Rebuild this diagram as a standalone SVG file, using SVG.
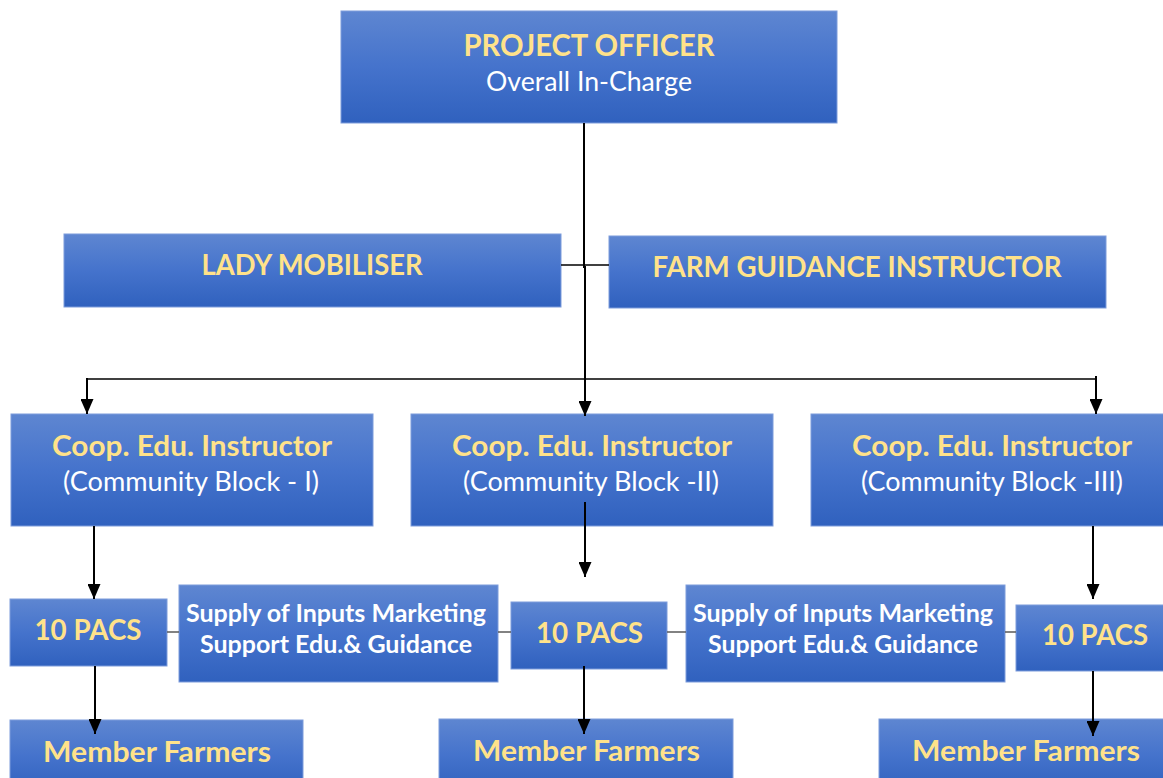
<svg xmlns="http://www.w3.org/2000/svg" width="1163" height="778" viewBox="0 0 1163 778">
  <defs>
    <linearGradient id="blueGrad" x1="0" y1="0" x2="0" y2="1">
      <stop offset="0" stop-color="#5E86D1"/>
      <stop offset="0.5" stop-color="#4573CC"/>
      <stop offset="1" stop-color="#3061BE"/>
    </linearGradient>
    <marker id="arrow" markerUnits="userSpaceOnUse" markerWidth="15" markerHeight="13" refX="15" refY="6.5" orient="auto">
      <path d="M0,0 L15,6.5 L0,13 Z" fill="#000"/>
    </marker>
    <style>
      .box { fill: url(#blueGrad); stroke: #7C9CDB; stroke-width: 1; }
      .t { font-family: Lato, "Open Sans", "Liberation Sans", sans-serif; text-anchor: middle; }
      .y { fill: #FFE28A; font-weight: bold; }
      .w { fill: #FFFFFF; }
      .wb { fill: #FFFFFF; font-weight: bold; }
      .arr { stroke: #000; stroke-width: 2; fill: none; marker-end: url(#arrow); }
      .ln { stroke: #000; stroke-width: 2; fill: none; }
      .thin { stroke: #000; stroke-width: 1.5; fill: none; }
      .gray { stroke: #595959; stroke-width: 1.5; fill: none; }
    </style>
  </defs>

  <g id="project-officer">
    <rect class="box" x="341" y="11" width="496" height="112"/>
    <text class="t y" x="589" y="56" font-size="31" textLength="251" lengthAdjust="spacingAndGlyphs">PROJECT OFFICER</text>
    <text class="t w" x="589" y="91" font-size="26" textLength="206" lengthAdjust="spacingAndGlyphs">Overall In-Charge</text>
  </g>

  <g id="lady-mobiliser">
    <rect class="box" x="64" y="234" width="497" height="73"/>
    <text class="t y" x="312" y="275" font-size="29" textLength="221" lengthAdjust="spacingAndGlyphs">LADY MOBILISER</text>
  </g>

  <g id="farm-guidance-instructor">
    <rect class="box" x="609" y="236" width="497" height="72"/>
    <text class="t y" x="857" y="277" font-size="28" textLength="409" lengthAdjust="spacingAndGlyphs">FARM GUIDANCE INSTRUCTOR</text>
  </g>

  <g id="cei-1">
    <rect class="box" x="11" y="414" width="362" height="112"/>
    <text class="t y" x="192" y="456" font-size="28" textLength="280" lengthAdjust="spacingAndGlyphs">Coop. Edu. Instructor</text>
    <text class="t w" x="191" y="491" font-size="26" textLength="256" lengthAdjust="spacingAndGlyphs">(Community Block - I)</text>
  </g>

  <g id="cei-2">
    <rect class="box" x="411" y="414" width="362" height="112"/>
    <text class="t y" x="592" y="456" font-size="28" textLength="280" lengthAdjust="spacingAndGlyphs">Coop. Edu. Instructor</text>
    <text class="t w" x="591" y="491" font-size="26" textLength="256" lengthAdjust="spacingAndGlyphs">(Community Block -II)</text>
  </g>

  <g id="cei-3">
    <rect class="box" x="811" y="414" width="362" height="112"/>
    <text class="t y" x="992" y="456" font-size="28" textLength="280" lengthAdjust="spacingAndGlyphs">Coop. Edu. Instructor</text>
    <text class="t w" x="992" y="491" font-size="26" textLength="262" lengthAdjust="spacingAndGlyphs">(Community Block -III)</text>
  </g>

  <g id="pacs-1">
    <rect class="box" x="10" y="599" width="157" height="67"/>
    <text class="t y" x="88" y="640" font-size="28" textLength="107" lengthAdjust="spacingAndGlyphs">10 PACS</text>
  </g>

  <g id="supply-1">
    <rect class="box" x="179" y="585" width="319" height="97"/>
    <text class="t wb" x="336" y="622" font-size="25" textLength="300" lengthAdjust="spacingAndGlyphs">Supply of Inputs Marketing</text>
    <text class="t wb" x="336" y="653" font-size="25" textLength="272" lengthAdjust="spacingAndGlyphs">Support Edu.&amp; Guidance</text>
  </g>

  <g id="pacs-2">
    <rect class="box" x="511" y="602" width="156" height="67"/>
    <text class="t y" x="589.5" y="643" font-size="28" textLength="107" lengthAdjust="spacingAndGlyphs">10 PACS</text>
  </g>

  <g id="supply-2">
    <rect class="box" x="686" y="585" width="319" height="97"/>
    <text class="t wb" x="843" y="622" font-size="25" textLength="300" lengthAdjust="spacingAndGlyphs">Supply of Inputs Marketing</text>
    <text class="t wb" x="843" y="653" font-size="25" textLength="270" lengthAdjust="spacingAndGlyphs">Support Edu.&amp; Guidance</text>
  </g>

  <g id="pacs-3">
    <rect class="box" x="1016" y="605" width="158" height="66"/>
    <text class="t y" x="1095" y="645" font-size="28" textLength="106" lengthAdjust="spacingAndGlyphs">10 PACS</text>
  </g>

  <g id="member-farmers-1">
    <rect class="box" x="10" y="720" width="293" height="72"/>
    <text class="t y" x="157" y="762" font-size="28" textLength="228" lengthAdjust="spacingAndGlyphs">Member Farmers</text>
  </g>

  <g id="member-farmers-2">
    <rect class="box" x="439" y="719" width="294" height="72"/>
    <text class="t y" x="586.5" y="761" font-size="28" textLength="227" lengthAdjust="spacingAndGlyphs">Member Farmers</text>
  </g>

  <g id="member-farmers-3">
    <rect class="box" x="879" y="719" width="294" height="72"/>
    <text class="t y" x="1026" y="761" font-size="28" textLength="228" lengthAdjust="spacingAndGlyphs">Member Farmers</text>
  </g>

  <g id="connectors">
    <line class="ln" x1="584" y1="123" x2="584" y2="268"/>
    <line class="thin" x1="561" y1="265" x2="609" y2="265"/>
    <line class="arr" x1="585" y1="266" x2="585" y2="416"/>
    <line class="thin" x1="87" y1="379" x2="1097" y2="379"/>
    <line class="arr" x1="87" y1="378" x2="87" y2="414"/>
    <line class="arr" x1="1096" y1="376" x2="1096" y2="414"/>
    <line class="arr" x1="94" y1="526" x2="94" y2="599"/>
    <line class="arr" x1="585" y1="502" x2="585" y2="577"/>
    <line class="arr" x1="1093" y1="526" x2="1093" y2="599"/>
    <line class="arr" x1="95" y1="666" x2="95" y2="734"/>
    <line class="arr" x1="584" y1="666" x2="584" y2="734"/>
    <line class="arr" x1="1093" y1="671" x2="1093" y2="736"/>
    <line class="gray" x1="167" y1="632" x2="179" y2="632"/>
    <line class="gray" x1="498" y1="632" x2="511" y2="632"/>
    <line class="gray" x1="667" y1="632" x2="686" y2="632"/>
    <line class="gray" x1="1005" y1="632" x2="1016" y2="632"/>
  </g>
</svg>
